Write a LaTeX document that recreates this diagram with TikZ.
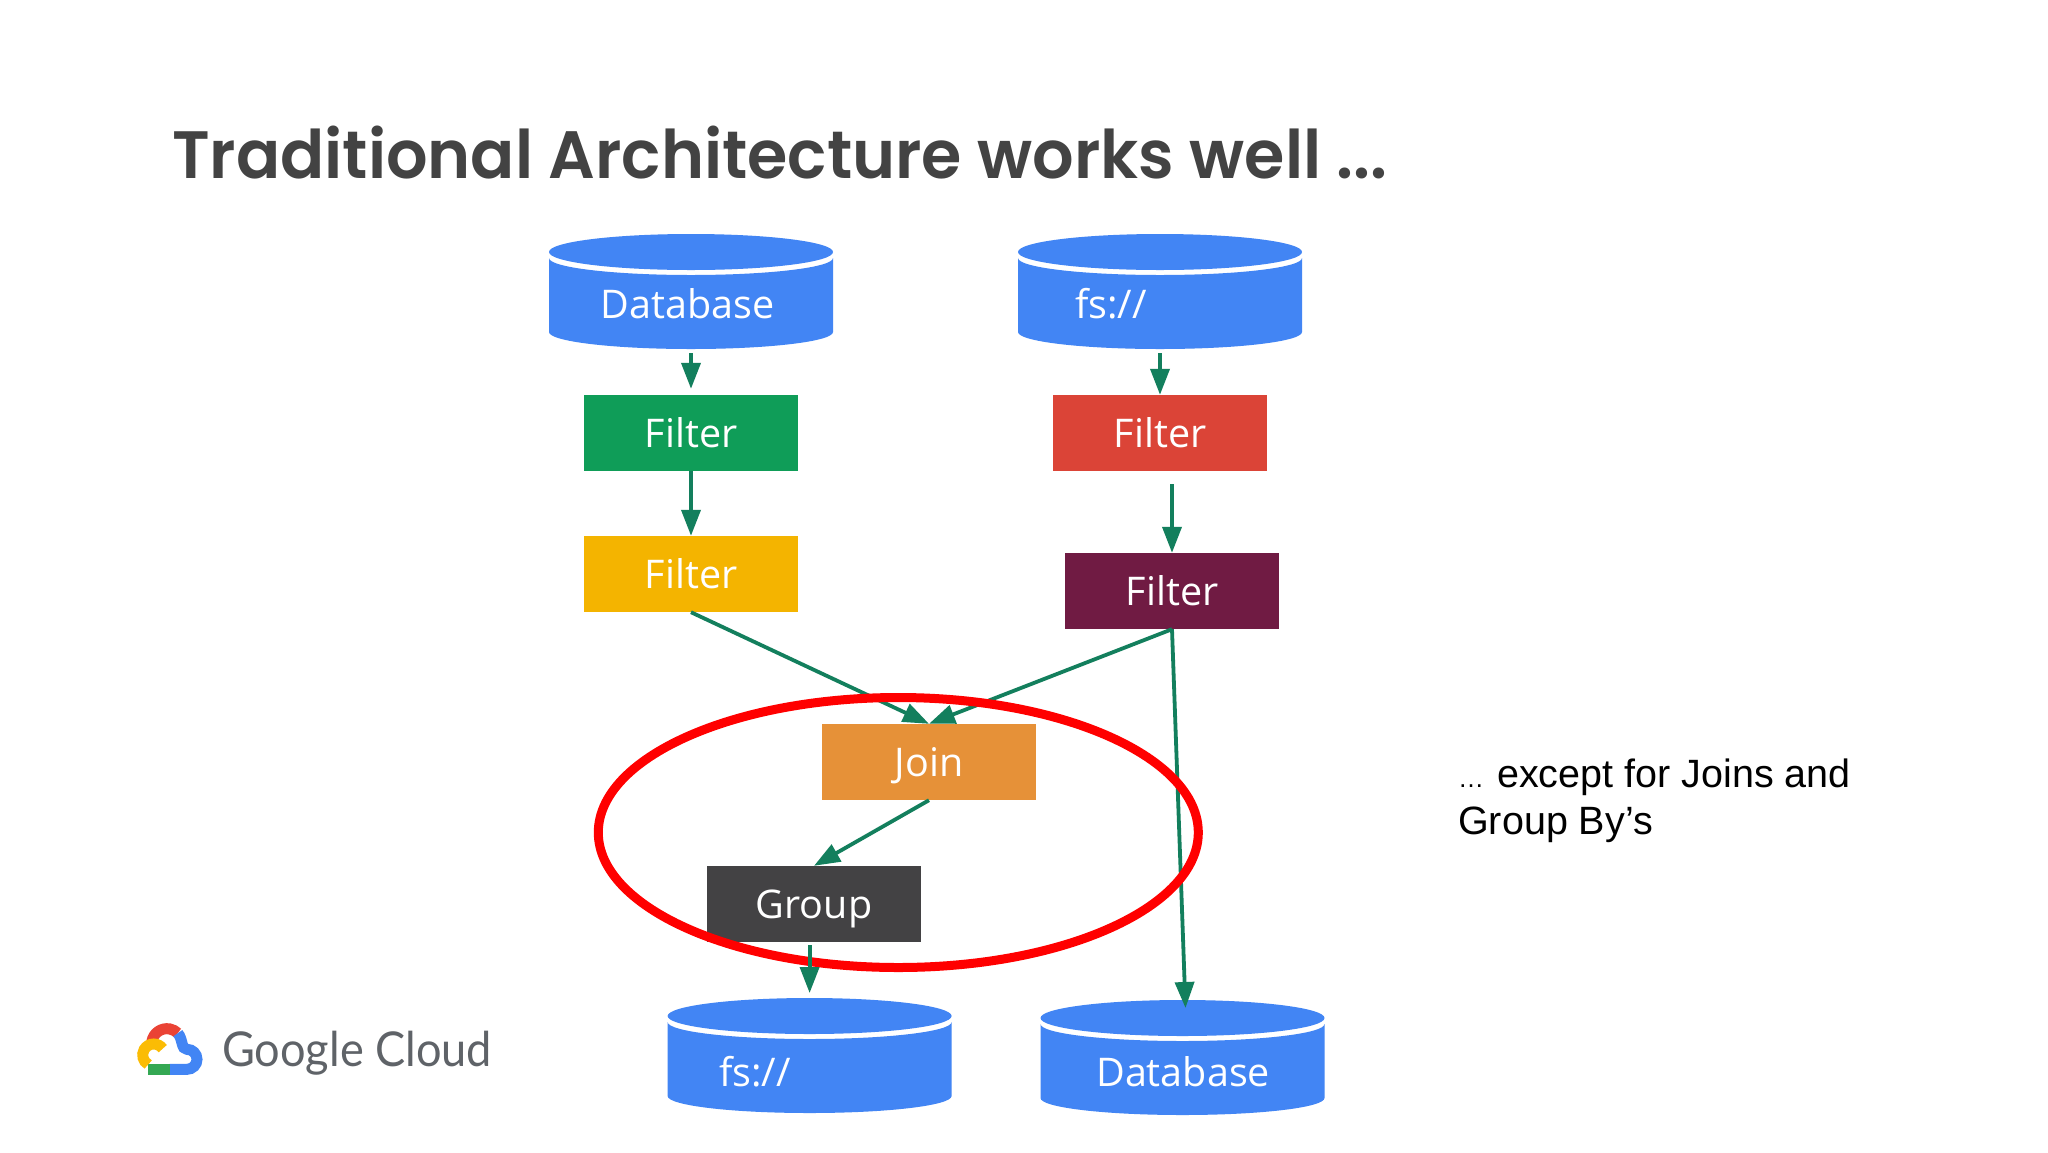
\documentclass[tikz,border=0pt]{standalone}
\usepackage{fontspec}
\setmainfont{Open Sans}
\newfontfamily\headfont{Poppins SemiBold}
\newfontfamily\brandfont{Lato}
\newfontfamily\notefont{Liberation Sans}
\usetikzlibrary{arrows.meta}

\definecolor{drumblue}{HTML}{4285F4}
\definecolor{flowgreen}{HTML}{137F5D}
\definecolor{inkgrey}{HTML}{434343}

\newcommand{\drum}[3]{%
    \node[drumbox] (#1) at (#2,#3) {};
    \begin{scope}[shift={(#2,#3)}]
        \fill[drumblue] (0,18) ellipse [x radius=142, y radius=18];
        \fill[drumblue] (142,24) arc [start angle=0, end angle=180, x radius=142, y radius=17]
            -- (-142,98) arc [start angle=180, end angle=0, x radius=142, y radius=17] -- cycle;
    \end{scope}%
}

\begin{document}
\begin{tikzpicture}[x=1pt,y=-1pt]
            \tikzset{
                drumbox/.style={rectangle, minimum width=284pt, minimum height=115pt, inner sep=0pt, anchor=north},
                drumtext/.style={text=white, inner sep=0pt, anchor=base west, font=\fontsize{39.5}{47}\selectfont},
                stage/.style={rectangle, minimum width=214pt, minimum height=76pt, inner sep=0pt,
                    text=white, text height=28pt, text depth=0pt, font=\fontsize{39.5}{47}\selectfont},
                edge/.style={flowgreen, line width=3.8pt, -{Triangle[length=26pt,width=19pt]}},
                ring/.style={red, line width=9pt},
                logoarc/.style={line width=11pt}
            }
            \fill[white] (0,0) rectangle (2048,1152);
            \useasboundingbox (0,0) rectangle (2048,1152);

            % title and note
            \node[anchor=base west, inner sep=0pt, text=inkgrey, xscale=0.9735, transform shape, font=\headfont\fontsize{67}{80}\selectfont] (title) at (172,178) {Traditional Architecture works well ...};
            \node[anchor=base west, inner sep=0pt, align=left, font=\notefont\fontsize{39.5}{47}\selectfont] (note) at (1458,834) {{\fontsize{26}{47}\selectfont …}\kern2pt{} except for Joins and\\Group By’s};

            % vertices
            \drum{dbin}{691}{234}
            \drum{fsin}{1160}{234}
            \drum{fsout}{809.6}{998}
            \drum{dbout}{1182.5}{1000}
            \node[drumtext] (dbinlabel) at (600.6,318) {Database};
            \node[drumtext] (fsinlabel) at (1075,318) {fs://};
            \node[drumtext] (fsoutlabel) at (718.8,1086) {fs://};
            \node[drumtext] (dboutlabel) at (1096,1086) {Database};

            \node[stage, fill={rgb,255:red,15;green,157;blue,88}] (fgreen) at (691,433) {Filter};
            \node[stage, fill={rgb,255:red,244;green,180;blue,0}] (fyellow) at (691,574) {Filter};
            \node[stage, fill={rgb,255:red,219;green,68;blue,55}] (fred) at (1160,433) {Filter};
            \node[stage, fill={rgb,255:red,112;green,27;blue,67}] (fpurple) at (1172,591) {Filter};
            \node[stage, fill={rgb,255:red,230;green,145;blue,56}] (join) at (929,762) {Join};
            \node[stage, fill={rgb,255:red,67;green,66;blue,68}] (group) at (814,904) {Group};

            %edges
            \draw[edge, shorten <=4pt, shorten >=6pt] (dbin) -- (fgreen);
            \draw[edge] (fgreen) -- (fyellow);
            \draw[edge, shorten <=4pt] (fsin) -- (fred);
            \draw[edge, shorten <=13pt] (fpurple.north |- fred.south) -- (fpurple);
            \draw[edge] (fyellow.south) -- (join.north);
            \draw[edge] (fpurple.south) -- (join.north);
            \draw[edge] (join.south) -- (group.north);
            \draw[edge] (fpurple.south) -- ([xshift=3pt,yshift=-8pt]dbout.north);

            % ring around join and group
            \draw[ring] (898.3,832.5) ellipse [x radius=300, y radius=135];
            \draw[edge, shorten <=3pt, shorten >=5pt] (group.south -| fsout.north) -- (fsout.north);

            % logo
            \begin{scope}[shift={(137,1075)},x=1pt,y=1pt]
                \draw[logoarc, color={rgb,255:red,234;green,67;blue,53}] (14.9,33.7) arc [start angle=170, end angle=45, radius=15.3];
                \draw[logoarc, color={rgb,255:red,66;green,133;blue,244}] (40.8,41.8) .. controls (46,36) and (44,25.7) .. (50,25.7)
                    arc [start angle=90, end angle=-90, radius=10] -- (32.7,5.7);
                \draw[logoarc, color={rgb,255:red,52;green,168;blue,83}] (32.7,5.7) -- (11,5.7);
                \draw[logoarc, color={rgb,255:red,251;green,188;blue,4}] (11.2,10.5) arc [start angle=240, end angle=35, radius=11];
            \end{scope}
            \node[anchor=base west, inner sep=0pt, text={rgb,255:red,95;green,99;blue,104}, xscale=0.94, transform shape, font=\brandfont\fontsize{48}{55}\selectfont] (brand) at (222,1066) {Google Cloud};
\end{tikzpicture}
\end{document}
